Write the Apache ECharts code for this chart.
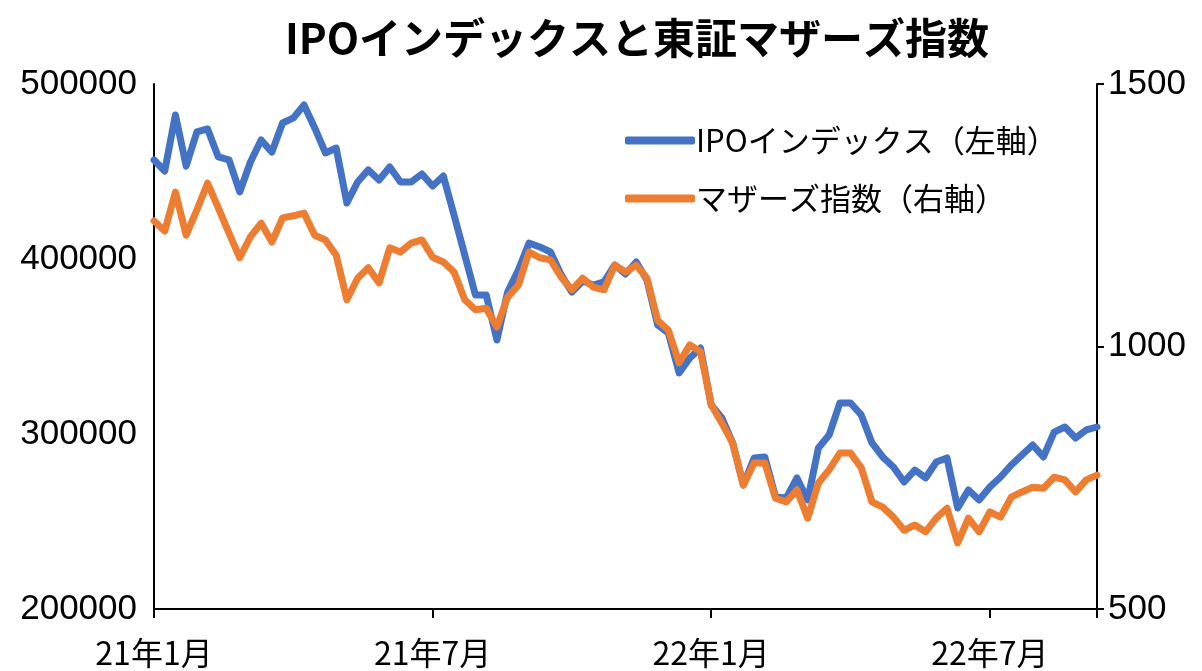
<!DOCTYPE html>
<html><head><meta charset="utf-8">
<script src="https://cdn.jsdelivr.net/npm/echarts@6/dist/echarts.min.js"></script>
<style>html,body{margin:0;padding:0;background:#fff}#c{width:1202px;height:671px}</style>
</head><body><div id="c"></div>
<script>
const titleText = 'IPOインデックスと東証マザーズ指数';
const seriesNames = ['IPOインデックス（左軸）', 'マザーズ指数（右軸）'];
const xTickPos = [0, 26, 52, 78];
const xTickLabels = ['21年1月', '21年7月', '22年1月', '22年7月'];
// weekly values, Jan 2021 - Sep 2022
const ipoIndex = [
456600,450300,482300,453100,472600,474300,458300,456600,438300,455400,
468000,461100,477700,480600,488000,474900,460600,463400,432000,444000,
450900,445100,452600,444000,444000,448600,441700,447400,425100,402300,
379400,379400,353700,381100,393700,409100,406900,404000,390900,381100,
387400,385100,386900,396600,391400,398300,388000,362300,357700,334900,
343400,349100,316600,309100,294900,270900,286300,286900,264000,263400,
274900,262300,292000,299400,317700,317700,310900,294900,286900,281100,
272600,279400,274900,284000,286300,257700,268000,262300,269700,275400,
282300,288000,293700,286900,301100,304000,297700,302300,304000];
const mothers = [
1239,1220,1294,1212,1260,1311,1264,1216,1169,1209,
1235,1199,1245,1249,1254,1212,1203,1174,1089,1130,
1150,1121,1188,1180,1197,1203,1170,1161,1142,1089,
1070,1073,1037,1094,1117,1180,1169,1165,1132,1108,
1130,1113,1108,1155,1142,1155,1130,1050,1031,969,
1003,990,889,854,816,736,778,778,711,704,
727,673,740,765,797,797,769,704,694,675,
650,660,647,673,692,626,673,647,685,675,
713,723,732,730,751,746,723,746,755];

const numFont = 'Liberation Sans';
const cjkFont = '"Noto Sans CJK JP", "Liberation Sans"';
const chart = echarts.init(document.getElementById('c'), null, {renderer: 'canvas'});
chart.setOption({
  animation: false,
  backgroundColor: '#fff',
  title: {
    text: titleText, left: 632, top: 12, textAlign: 'center',
    textStyle: {fontFamily: cjkFont, fontWeight: 'bold', fontSize: 42, color: '#000'}
  },
  legend: {
    orient: 'vertical', left: 620, top: 120, itemGap: 27,
    itemWidth: 70, itemHeight: 8, icon: 'roundRect',
    textStyle: {fontFamily: cjkFont, fontSize: 31, color: '#000', lineHeight: 30, padding: [0,0,0,-4]},
    data: seriesNames
  },
  grid: {left: 154, right: 105, top: 84, bottom: 62, containLabel: false},
  xAxis: {
    type: 'value', min: 0, max: 88, interval: 26,
    splitLine: {show: false},
    axisLine: {lineStyle: {color: '#000', width: 2}},
    axisTick: {show: true, length: 9, lineStyle: {color: '#000', width: 2}},
    axisLabel: {
      margin: 28, fontSize: 32, color: '#000', fontFamily: cjkFont,
      formatter: v => { const k = xTickPos.indexOf(v); return k >= 0 ? xTickLabels[k] : ''; }
    }
  },
  yAxis: [
    {type: 'value', min: 200000, max: 500000, interval: 100000, position: 'left',
     splitLine: {show: false},
     axisLine: {show: true, lineStyle: {color: '#000', width: 2}},
     axisTick: {show: false},
     axisLabel: {margin: 17, fontSize: 35, color: '#000', fontFamily: numFont, formatter: v => String(v)}},
    {type: 'value', min: 500, max: 1500, interval: 500, position: 'right',
     splitLine: {show: false},
     axisLine: {show: true, lineStyle: {color: '#000', width: 2}},
     axisTick: {show: true, length: 7, lineStyle: {color: '#000', width: 2}},
     axisLabel: {margin: 11, fontSize: 35, color: '#000', fontFamily: numFont, formatter: v => String(v)}}
  ],
  series: [
    {name: seriesNames[0], type: 'line', yAxisIndex: 0, symbol: 'none',
     data: ipoIndex.map((v, i) => [i, v]),
     lineStyle: {color: '#4472C4', width: 7, join: 'round', cap: 'round'},
     itemStyle: {color: '#4472C4'}},
    {name: seriesNames[1], type: 'line', yAxisIndex: 1, symbol: 'none',
     data: mothers.map((v, i) => [i, v]),
     lineStyle: {color: '#ED7D31', width: 7, join: 'round', cap: 'round'},
     itemStyle: {color: '#ED7D31'}}
  ]
});
</script></body></html>
